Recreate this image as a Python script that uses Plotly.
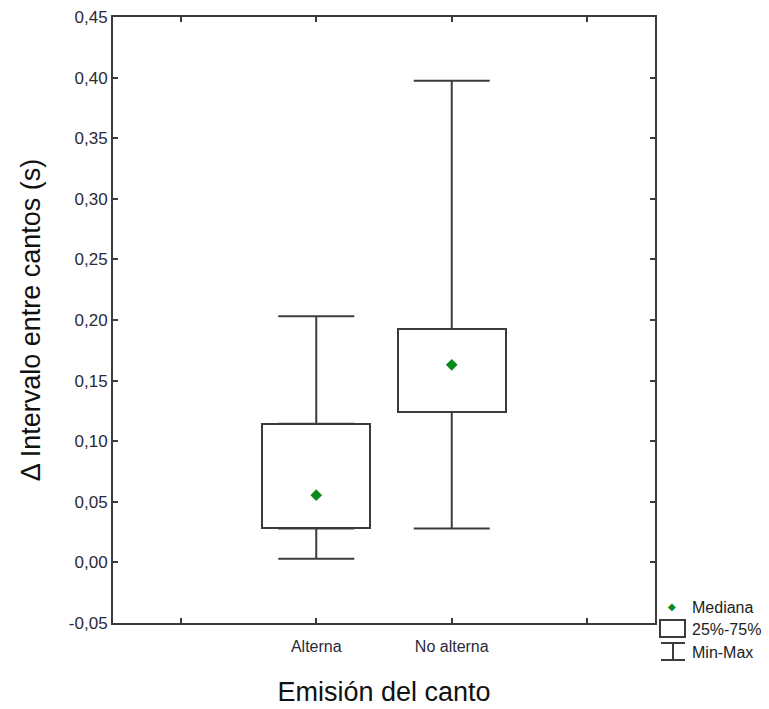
import plotly.graph_objects as go

categories = ["Alterna", "No alterna"]
positions = [1, 2]
v_min = [0.003, 0.028]
q1 = [0.028, 0.124]
median = [0.0555, 0.163]
q3 = [0.1145, 0.1925]
v_max = [0.203, 0.3975]

ytick_vals = [-0.05, 0.0, 0.05, 0.10, 0.15, 0.20, 0.25, 0.30, 0.35, 0.40, 0.45]
ytick_text = [f"{v:.2f}".replace(".", ",") for v in ytick_vals]
xtick_vals = [0, 1, 2, 3]
xtick_text = ["", categories[0], categories[1], ""]

LINE = "#3c3c3c"
GREEN = "#0a8a1a"
FONT = "Liberation Sans, Arial, sans-serif"

fig = go.Figure()

fig.add_trace(go.Bar(
    x=positions, y=[b - a for a, b in zip(q1, q3)], base=q1, width=0.8,
    marker=dict(color="white", line=dict(color=LINE, width=2)),
    showlegend=False, hoverinfo="skip"))

fig.add_trace(go.Scatter(
    x=positions, y=q3, mode="markers", marker=dict(size=1, opacity=0),
    error_y=dict(type="data", array=[b - a for a, b in zip(q3, v_max)],
                 arrayminus=[0, 0], color=LINE, thickness=2, width=38),
    showlegend=False, hoverinfo="skip"))

fig.add_trace(go.Scatter(
    x=positions, y=q1, mode="markers", marker=dict(size=1, opacity=0),
    error_y=dict(type="data", array=[0, 0],
                 arrayminus=[a - b for a, b in zip(q1, v_min)], color=LINE, thickness=2, width=38),
    showlegend=False, hoverinfo="skip"))

fig.add_trace(go.Scatter(
    x=positions, y=median, mode="markers",
    marker=dict(symbol="diamond", size=9, color=GREEN),
    showlegend=False))

W, H = 769, 709
L, R, T, B = 113, 114, 17, 86
pw, ph = W - L - R, H - T - B

def px(x):
    return (x - L) / pw

def py(y):
    return (H - B - y) / ph

shapes = []
shapes.append(dict(type="rect", xref="paper", yref="paper",
                   x0=px(660), x1=px(685), y0=py(637), y1=py(620),
                   line=dict(color=LINE, width=2), fillcolor="white"))
for yy in (643, 660):
    shapes.append(dict(type="line", xref="paper", yref="paper",
                       x0=px(661), x1=px(685), y0=py(yy), y1=py(yy),
                       line=dict(color=LINE, width=2)))
shapes.append(dict(type="line", xref="paper", yref="paper",
                   x0=px(673), x1=px(673), y0=py(643), y1=py(660),
                   line=dict(color=LINE, width=2)))

annotations = []
for txt, yy in (("Mediana", 607), ("25%-75%", 629), ("Min-Max", 652)):
    annotations.append(dict(text=txt, xref="paper", yref="paper",
                            x=px(690), y=py(yy), xanchor="left", yanchor="middle",
                            showarrow=False, font=dict(family=FONT, size=16, color="#222")))
annotations.append(dict(text="\u25c6", xref="paper", yref="paper",
                        x=px(672), y=py(606), xanchor="center", yanchor="middle",
                        showarrow=False, font=dict(family="DejaVu Sans", size=10, color=GREEN)))

fig.update_layout(
    width=W, height=H,
    margin=dict(l=L, r=R, t=T, b=B),
    paper_bgcolor="white", plot_bgcolor="white",
    showlegend=False, bargap=0,
    shapes=shapes, annotations=annotations,
    font=dict(family=FONT, color="#2a2a38"),
)

fig.update_xaxes(
    range=[-0.5, 3.5], tickvals=xtick_vals, ticktext=xtick_text,
    ticks="inside", ticklen=5, tickwidth=2, tickcolor=LINE,
    showline=True, linecolor=LINE, linewidth=2, mirror="ticks",
    showgrid=False, zeroline=False, ticklabelstandoff=8, automargin=False,
    tickfont=dict(family=FONT, size=16, color="#2a2a38"),
    title=dict(text="Emisión del canto", standoff=28,
               font=dict(family=FONT, size=27, color="#111")),
)
fig.update_yaxes(
    range=[-0.05, 0.45], tickvals=ytick_vals, ticktext=ytick_text,
    ticks="inside", ticklen=5, tickwidth=2, tickcolor=LINE,
    showline=True, linecolor=LINE, linewidth=2, mirror="ticks",
    showgrid=False, zeroline=False, automargin=False,
    tickfont=dict(family=FONT, size=17, color="#2a2a38"),
    title=dict(text="\u0394 Intervalo entre cantos (s)", standoff=20,
               font=dict(family=FONT, size=27, color="#111")),
)

fig.write_html("out.html")
